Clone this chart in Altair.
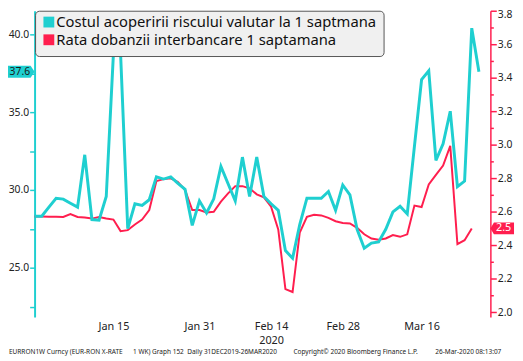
import altair as alt
import pandas as pd

FONT = "Noto Sans"
CY = "#1FCFD0"
RD = "#FF1E4E"

cyan_name = "Costul acoperirii riscului valutar la 1 saptmana"
red_name = "Rata dobanzii interbancare 1 saptamana"

# weekday index 0 = 31 Dec 2019 ... 62 = 26 Mar 2020
cyan_vals = [28.31, 28.31, 28.9, 29.47, 29.41, 29.15, 28.9, 32.26, 28.1, 28.06,
             29.58, 38.75, 38.75, 27.51, 29.11, 29.0, 29.37, 30.84, 30.70, 30.84,
             30.42, 30.04, 27.72, 29.30, 28.52, 29.43, 31.52, 30.4, 29.30, 32.11,
             29.58, 32.11, 29.58, 29.11, 28.69, 26.1, 25.61, 27.78, 29.47, 29.47,
             29.47, 29.9, 28.69, 30.32, 29.68, 27.47, 26.25, 26.58, 26.66, 27.47,
             28.59, 28.95, 28.46, 32.8, 37.1, 37.66, 31.9, 32.96, 35.06, 30.21,
             30.57, 40.4, 37.6]
red_vals = [2.572, 2.572, 2.57, 2.57, 2.569, 2.586, 2.569, 2.565, 2.559, 2.569,
            2.56, 2.553, 2.484, 2.49, 2.524, 2.553, 2.61, 2.784, 2.795, 2.80,
            2.778, 2.73, 2.61, 2.61, 2.596, 2.60, 2.66, 2.71, 2.753, 2.753,
            2.74, 2.704, 2.686, 2.63, 2.494, 2.137, 2.12, 2.475, 2.569, 2.582,
            2.578, 2.563, 2.543, 2.533, 2.53, 2.504, 2.465, 2.44, 2.433, 2.44,
            2.46, 2.45, 2.465, 2.637, 2.628, 2.763, 2.82, 2.876, 2.994, 2.406,
            2.43, 2.5]

x_tick_idx = [11, 23, 33, 43, 54]
x_tick_lbl = [["Jan 15"], ["Jan 31"], ["Feb 14", "2020"], ["Feb 28"], ["Mar 16"]]
left_ticks = [22.5, 25, 27.5, 30, 32.5, 35, 37.5, 40]
right_ticks = [round(2 + 0.1 * k, 1) for k in range(19)]

footer_parts = ["EURRON1W Curncy (EUR-RON X-RATE",
                "1 WK) Graph 152\u00a0\u00a0Daily 31DEC2019-26MAR2020",
                "Copyright\u00a9 2020 Bloomberg Finance L.P.",
                "26-Mar-2020 08:13:07"]
footer_x = [-26, 100, 263, 407]

W, H = 463, 311

df_c = pd.DataFrame({"i": list(range(len(cyan_vals))), "v": cyan_vals})
df_r = pd.DataFrame({"i": list(range(len(red_vals))), "v": red_vals})
df_c_last = pd.DataFrame({"v": [cyan_vals[-1]], "lbl": [f"{cyan_vals[-1]:.1f}"]})
df_r_last = pd.DataFrame({"v": [red_vals[-1]], "lbl": [f"{red_vals[-1]:.1f}"]})

def lbl_expr():
    parts = []
    for idx, lab in zip(x_tick_idx, x_tick_lbl):
        arr = "[" + ",".join("'" + s + "'" for s in lab) + "]"
        parts.append(f"datum.value == {idx} ? {arr} : ")
    return "".join(parts) + "''"

x_axis = alt.Axis(values=x_tick_idx, labelExpr=lbl_expr(), domain=False, ticks=False,
                  grid=False, title=None, labelFont=FONT, labelFontSize=11,
                  labelColor="#222222", labelPadding=4, labelLineHeight=14,
                  labelFlush=False, labelOverlap=False, labelBaseline="top")
x_enc = alt.X("i:Q", scale=alt.Scale(domain=[0, 63.6], nice=False, zero=False), axis=x_axis)

left_axis = alt.Axis(orient="left", values=left_ticks, grid=False, title=None,
                     labelExpr="datum.value % 5 == 0 ? format(datum.value, '.1f') : ''",
                     domainColor=CY, domainWidth=2, tickColor=CY, tickWidth=1.5, tickSize=5,
                     labelFont=FONT, labelFontSize=10.5, labelColor="#222222", labelPadding=1)
right_axis = alt.Axis(orient="right", values=right_ticks, grid=False, title=None,
                      labelExpr="round(datum.value * 10) % 2 == 0 ? format(datum.value, '.1f') : ''",
                      domainColor=RD, domainWidth=1.5, tickColor=RD, tickWidth=1.5, tickSize=6,
                      tickDash={"condition": {"test": "round(datum.value * 10) % 2 == 1", "value": [3, 20]},
                                "value": []},
                      labelOffset={"condition": {"test": "datum.value >= 3.75", "value": 4},
                                   "value": 0},
                      labelFont=FONT, labelFontSize=10.5, labelColor="#222222", labelPadding=1)

ys_c = alt.Scale(domain=[21.84, 41.52], nice=False, zero=False)
ys_r = alt.Scale(domain=[1.971, 3.802], nice=False, zero=False)

yc = alt.Y("v:Q", scale=ys_c, axis=left_axis)
yr = alt.Y("v:Q", scale=ys_r, axis=right_axis)

red_line = alt.Chart(df_r).mark_line(color=RD, strokeWidth=2).encode(x=x_enc, y=yr)
red_box = alt.Chart(df_r_last).mark_point(
    shape="M 1 -0.5 L -0.7 -0.5 L -1 0 L -0.7 0.5 L 1 0.5 Z",
    size=576, filled=True, fill=RD, opacity=1, strokeWidth=0).encode(x=alt.value(W + 12), y=yr)
red_txt = alt.Chart(df_r_last).mark_text(color="white", font=FONT, fontSize=11,
                                         align="center", baseline="middle").encode(
    x=alt.value(W + 13.5), y=yr, text="lbl:N")
red_layer = alt.layer(red_line, red_box, red_txt)

cyan_line = alt.Chart(df_c).mark_line(color=CY, strokeWidth=3).encode(x=x_enc, y=yc)
cyan_box = alt.Chart(df_c_last).mark_point(
    shape="M -1 -0.444 L 0.7 -0.444 L 1 0 L 0.7 0.444 L -1 0.444 Z",
    size=729, filled=True, fill=CY, opacity=1, strokeWidth=0).encode(x=alt.value(-13.5), y=yc)
cyan_txt = alt.Chart(df_c_last).mark_text(color="#1a1a1a", font=FONT, fontSize=10.5,
                                          align="center", baseline="middle").encode(
    x=alt.value(-15), y=yc, text="lbl:N")
cyan_layer = alt.layer(cyan_line, cyan_box, cyan_txt)

one = pd.DataFrame({"a": [0]})
leg_box = alt.Chart(one).mark_rect(fill="#f0f0f0", stroke="#555555", strokeWidth=1,
                                   cornerRadius=4).encode(
    x=alt.value(1), x2=alt.value(355), y=alt.value(0.5), y2=alt.value(46.5))
leg_layers = [leg_box]
for k, (name, col) in enumerate([(cyan_name, CY), (red_name, RD)]):
    yy = 11.5 + 18 * k
    dfn = pd.DataFrame({"name": [name]})
    leg_layers.append(alt.Chart(dfn).mark_square(size=121, filled=True, fill=col, opacity=1,
                                                 strokeWidth=0).encode(
        x=alt.value(14.5), y=alt.value(yy)))
    leg_layers.append(alt.Chart(dfn).mark_text(align="left", baseline="middle", font=FONT,
                                               fontSize=15, color="#111111").encode(
        x=alt.value(22), y=alt.value(yy + 0.5), text="name:N"))

foot_layers = []
for txt, fx in zip(footer_parts, footer_x):
    dft = pd.DataFrame({"t": [txt]})
    foot_layers.append(alt.Chart(dft).mark_text(align="left", baseline="middle", font=FONT,
                                                fontSize=6.6, color="#222222").encode(
        x=alt.value(fx), y=alt.value(347), text="t:N"))

chart = alt.layer(red_layer, cyan_layer, *leg_layers, *foot_layers).resolve_scale(
    y="independent"
).properties(
    width=W, height=H,
    autosize=alt.AutoSizeParams(type="none"),
    padding={"left": 27, "top": 0, "right": 25, "bottom": 42},
    background="white",
).configure_view(stroke=None)

chart.save("out.html", embed_options={"renderer": "svg", "actions": False})
